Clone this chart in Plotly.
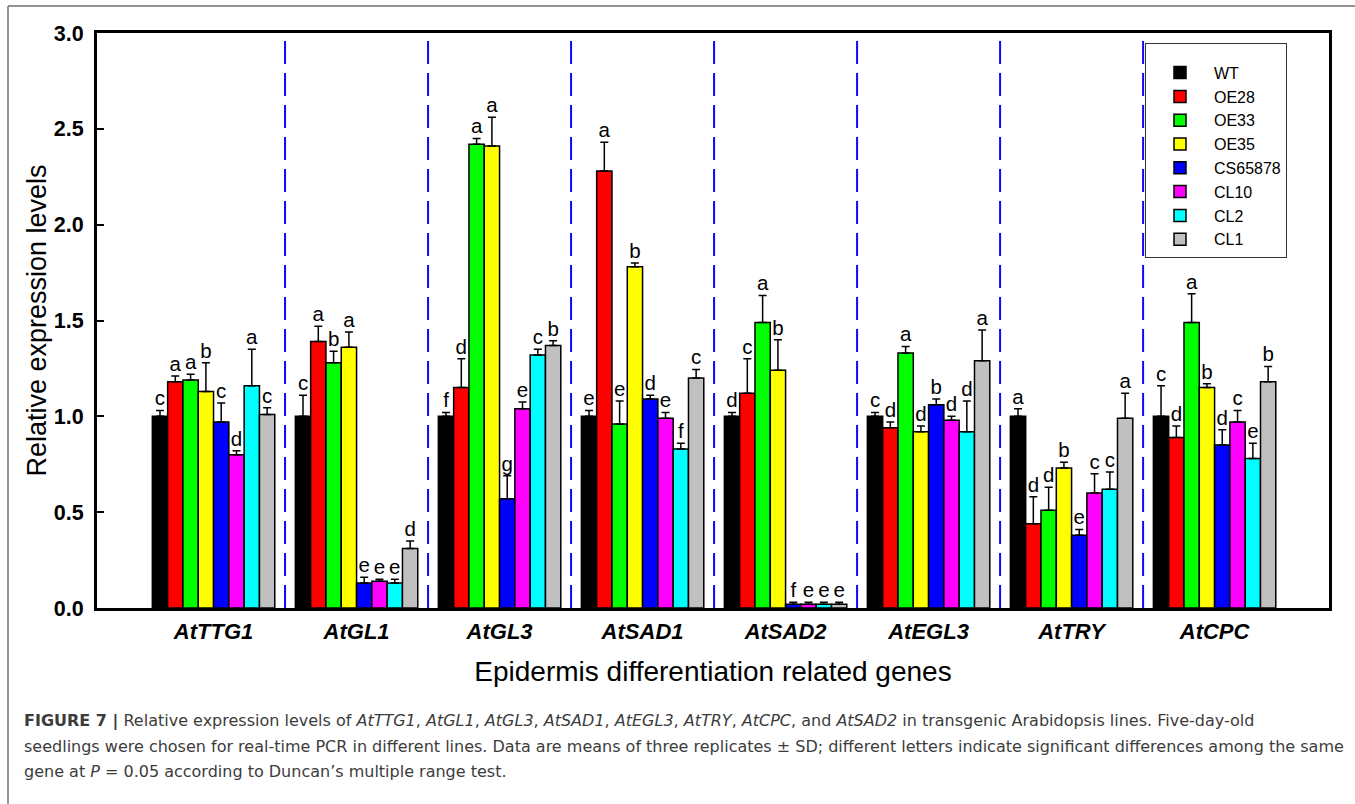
import plotly.graph_objects as go

genes = ["AtTTG1", "AtGL1", "AtGL3", "AtSAD1", "AtSAD2", "AtEGL3", "AtTRY", "AtCPC"]
lines = ["WT", "OE28", "OE33", "OE35", "CS65878", "CL10", "CL2", "CL1"]
colors = ["#000000", "#FF0000", "#00FF00", "#FFFF00", "#0000FF", "#FF00FF", "#00FFFF", "#C0C0C0"]

# mean values per line, ordered by genes
WT      = [1.00, 1.00, 1.00, 1.00, 1.00, 1.00, 1.00, 1.00]
OE28    = [1.18, 1.39, 1.15, 2.28, 1.12, 0.94, 0.44, 0.89]
OE33    = [1.19, 1.28, 2.42, 0.96, 1.49, 1.33, 0.51, 1.49]
OE35    = [1.13, 1.36, 2.41, 1.78, 1.24, 0.92, 0.73, 1.15]
CS65878 = [0.97, 0.13, 0.57, 1.09, 0.02, 1.06, 0.38, 0.85]
CL10    = [0.80, 0.14, 1.04, 0.99, 0.02, 0.98, 0.60, 0.97]
CL2     = [1.16, 0.13, 1.32, 0.83, 0.02, 0.92, 0.62, 0.78]
CL1     = [1.01, 0.31, 1.37, 1.20, 0.02, 1.29, 0.99, 1.18]

# standard deviations
WT_sd      = [0.03, 0.11, 0.02, 0.03, 0.02, 0.02, 0.04, 0.16]
OE28_sd    = [0.03, 0.08, 0.15, 0.15, 0.18, 0.03, 0.14, 0.06]
OE33_sd    = [0.03, 0.06, 0.03, 0.12, 0.14, 0.035, 0.12, 0.15]
OE35_sd    = [0.15, 0.08, 0.15, 0.02, 0.16, 0.03, 0.03, 0.02]
CS65878_sd = [0.10, 0.03, 0.12, 0.02, 0.01, 0.03, 0.03, 0.08]
CL10_sd    = [0.02, 0.01, 0.035, 0.03, 0.01, 0.02, 0.10, 0.06]
CL2_sd     = [0.19, 0.02, 0.03, 0.03, 0.01, 0.16, 0.09, 0.08]
CL1_sd     = [0.035, 0.04, 0.025, 0.045, 0.01, 0.16, 0.13, 0.08]

# significance letters
WT_lt      = ["c", "c", "f", "e", "d", "c", "a", "c"]
OE28_lt    = ["a", "a", "d", "a", "c", "d", "d", "d"]
OE33_lt    = ["a", "b", "a", "e", "a", "a", "d", "a"]
OE35_lt    = ["b", "a", "a", "b", "b", "d", "b", "b"]
CS65878_lt = ["c", "e", "g", "d", "f", "b", "e", "d"]
CL10_lt    = ["d", "e", "e", "e", "e", "d", "c", "c"]
CL2_lt     = ["a", "e", "c", "f", "e", "d", "c", "e"]
CL1_lt     = ["c", "d", "b", "c", "e", "a", "a", "b"]

means = [WT, OE28, OE33, OE35, CS65878, CL10, CL2, CL1]
sds = [WT_sd, OE28_sd, OE33_sd, OE35_sd, CS65878_sd, CL10_sd, CL2_sd, CL1_sd]
letters = [WT_lt, OE28_lt, OE33_lt, OE35_lt, CS65878_lt, CL10_lt, CL2_lt, CL1_lt]

xs = list(range(len(genes)))
bw = 0.107
start = -bw * len(lines) / 2

fig = go.Figure()
for k, name in enumerate(lines):
    off = start + k * bw
    fig.add_trace(go.Bar(
        x=xs, y=means[k], name=name, width=bw, offset=off,
        marker=dict(color=colors[k], line=dict(color="black", width=1.5)),
        error_y=dict(type="data", symmetric=False, array=sds[k],
                     arrayminus=[0] * len(genes), color="black",
                     thickness=1.5, width=4),
    ))
for k, name in enumerate(lines):
    off = start + k * bw
    fig.add_trace(go.Scatter(
        x=[x + off + bw / 2 for x in xs],
        y=[m + s for m, s in zip(means[k], sds[k])],
        mode="text", text=letters[k], textposition="top center",
        textfont=dict(family="Liberation Sans, Arial", size=20.5, color="black"),
        showlegend=False, cliponaxis=False, hoverinfo="skip",
    ))

# group separators
for i in range(len(genes) - 1):
    fig.add_shape(type="line", xref="x", yref="y", x0=i + 0.5, x1=i + 0.5,
                  y0=0, y1=3, line=dict(color="#0a0aff", width=2, dash="23px,9px"),
                  layer="below")

W, H = 1355, 804
L, R, T, B = 97, 1329, 33, 608
pw, ph = R - L, B - T


def px(x):
    return (x - L) / pw


def py(y):
    return (B - y) / ph


# outer figure frame
fig.add_shape(type="line", xref="paper", yref="paper", x0=px(8), x1=px(8),
              y0=py(6), y1=py(804), line=dict(color="#707070", width=1.5))
fig.add_shape(type="line", xref="paper", yref="paper", x0=px(8), x1=px(1355),
              y0=py(6), y1=py(6), line=dict(color="#707070", width=1.5))

cap_font = dict(family="DejaVu Sans", size=16, color="#3c3c3c")
cap_lines = [
    "<b>FIGURE 7 |</b> Relative expression levels of <i>AtTTG1</i>, <i>AtGL1</i>, <i>AtGL3</i>, "
    "<i>AtSAD1</i>, <i>AtEGL3</i>, <i>AtTRY</i>, <i>AtCPC</i>, and <i>AtSAD2</i> in transgenic "
    "Arabidopsis lines. Five-day-old",
    "seedlings were chosen for real-time PCR in different lines. Data are means of three replicates "
    "\u00b1 SD; different letters indicate significant differences among the same",
    "gene at <i>P</i> = 0.05 according to Duncan\u2019s multiple range test.",
]
for j, t in enumerate(cap_lines):
    fig.add_annotation(text=t, xref="paper", yref="paper", x=px(22), y=py(721 + 25 * j),
                       xanchor="left", yanchor="middle", showarrow=False, font=cap_font)

fig.update_layout(
    width=W, height=H,
    margin=dict(l=L, r=W - R, t=T, b=H - B, pad=0),
    paper_bgcolor="white", plot_bgcolor="white",
    barmode="overlay",
    showlegend=True,
    legend=dict(x=px(1145), y=py(43), xanchor="left", yanchor="top",
                bgcolor="white", bordercolor="#333333", borderwidth=1,
                font=dict(family="Liberation Sans, Arial", size=16, color="black"),
                title=dict(text=" ", font=dict(size=9)),
                itemwidth=58, traceorder="normal"),
    xaxis=dict(range=[-0.815, 7.80], tickvals=xs,
               ticktext=["<b><i>%s</i></b>" % g for g in genes],
               tickfont=dict(family="Liberation Sans, Arial", size=22, color="black"),
               showline=True, linecolor="black", linewidth=3, mirror=True,
               ticks="", showgrid=False, zeroline=False, ticklabelstandoff=2,
               title=dict(text="Epidermis differentiation related genes",
                          font=dict(family="Liberation Sans, Arial", size=28, color="black"),
                          standoff=18)),
    yaxis=dict(range=[0, 3], dtick=0.5, tickformat=".1f",
               tickfont=dict(family="Liberation Sans, Arial", size=21.5, color="black"),
               showline=True, linecolor="black", linewidth=3, mirror=True,
               ticks="inside", ticklen=7, tickwidth=1.5, tickcolor="black",
               showgrid=False, zeroline=False, ticklabelstandoff=6,
               title=dict(text="Relative expression levels",
                          font=dict(family="Liberation Sans, Arial", size=27, color="black"),
                          standoff=0)),
)
fig.update_yaxes(tickprefix="<b>", ticksuffix="</b>")

fig.write_html("out.html")
